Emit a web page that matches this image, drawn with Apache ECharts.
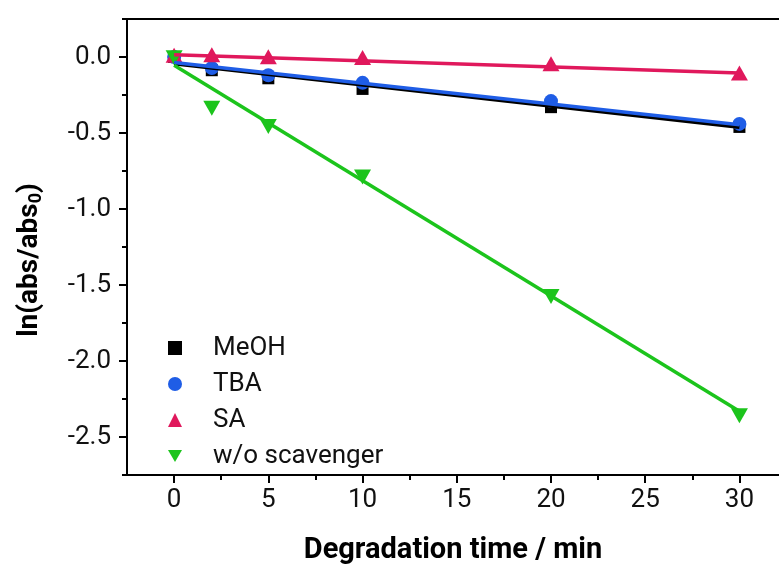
<!doctype html>
<html>
<head>
  <meta charset="utf-8">
  <script src="https://cdn.jsdelivr.net/npm/echarts@6/dist/echarts.min.js"></script>
  <style>
    html, body { margin: 0; padding: 0; background: #fff; }
    #chart { width: 779px; height: 570px; }
  </style>
</head>
<body>
  <div id="chart"></div>
  <script>
    // sampling times (min)
    var times = [0, 2, 5, 10, 20, 30];
    // ln(abs/abs0)
    var meoh = [0, -0.087, -0.14, -0.21, -0.33, -0.46];
    var tba = [0, -0.072, -0.12, -0.17, -0.29, -0.44];
    var sa = [0.012, 0.014, 0.002, -0.003, -0.044, -0.105];
    var woScav = [-0.005, -0.337, -0.457, -0.79, -1.576, -2.36];
    // linear fits (end points)
    var fitX = [0, 30];
    var meohFit = [-0.045, -0.462];
    var tbaFit = [-0.036, -0.446];
    var saFit = [0.015, -0.105];
    var woFit = [-0.055, -2.33];
    // axis ticks
    var xMajor = [0, 5, 10, 15, 20, 25, 30];
    var xMinor = [2.5, 7.5, 12.5, 17.5, 22.5, 27.5];
    var yMajor = [0, -0.5, -1, -1.5, -2, -2.5];
    var yMinor = [0.25, -0.25, -0.75, -1.25, -1.75, -2.25, -2.75];

    var names = ['MeOH', 'TBA', 'SA', 'w/o scavenger'];
    var colors = ['#000000', '#1f5de6', '#e0185c', '#1cc41c'];
    var symbols = ['rect', 'circle', 'triangle', 'path://M0,0 L10,0 L5,8.7 Z'];
    var sizes = [12, 14, [17, 15], [17, 15]];
    var values = [meoh, tba, sa, woScav];
    var fits = [meohFit, tbaFit, saFit, woFit];

    function pairs(xs, ys) {
      var out = [];
      for (var i = 0; i < xs.length; i++) out.push([xs[i], ys[i]]);
      return out;
    }

    var font = 'Roboto';
    var series = [];
    for (var i = 0; i < names.length; i++) {
      series.push({
        name: names[i],
        type: 'scatter',
        symbol: symbols[i],
        symbolSize: sizes[i],
        itemStyle: { color: colors[i], opacity: 1 },
        data: pairs(times, values[i]),
        z: 2
      });
    }
    for (var j = 0; j < names.length; j++) {
      series.push({
        type: 'line',
        showSymbol: false,
        symbol: 'none',
        lineStyle: { color: colors[j], width: 3.5 },
        data: pairs(fitX, fits[j]),
        z: 3,
        silent: true
      });
    }

    var baseX = { type: 'value', min: -2.5, max: 32.1, gridIndex: 0, splitLine: { show: false } };
    var baseY = { type: 'value', min: -2.75, max: 0.25, gridIndex: 0, splitLine: { show: false } };
    var axisLine = { show: true, onZero: false, lineStyle: { color: '#000', width: 2 } };
    var noLine = { show: false, onZero: false };

    var chart = echarts.init(document.getElementById('chart'));
    chart.setOption({
      animation: false,
      backgroundColor: '#fff',
      textStyle: { fontFamily: font },
      grid: { left: 127, right: 0, top: 19, bottom: 91 },
      legend: {
        data: names.map(function (n, k) { return { name: n, icon: symbols[k] }; }),
        orient: 'vertical',
        left: 163,
        top: 330,
        itemWidth: 14,
        itemHeight: 14,
        itemGap: 10,
        textStyle: { fontFamily: font, fontSize: 26, lineHeight: 24, color: '#111', padding: [0, 0, 0, 26] }
      },
      xAxis: [
        Object.assign({}, baseX, {
          position: 'bottom',
          name: 'Degradation time / min',
          nameLocation: 'middle',
          nameGap: 61,
          nameTextStyle: { fontFamily: font, fontSize: 29, fontWeight: 'bold', color: '#000' },
          axisLine: axisLine,
          axisTick: { show: true, inside: false, length: 8, customValues: xMajor, lineStyle: { color: '#000', width: 2 } },
          axisLabel: { customValues: xMajor, margin: 12, fontFamily: font, fontSize: 26, color: '#111' }
        }),
        Object.assign({}, baseX, {
          position: 'bottom',
          axisLine: noLine,
          axisTick: { show: true, inside: false, length: 5, customValues: xMinor, lineStyle: { color: '#000', width: 2 } },
          axisLabel: { show: false }
        }),
        Object.assign({}, baseX, {
          position: 'top',
          axisLine: axisLine,
          axisTick: { show: false },
          axisLabel: { show: false }
        })
      ],
      yAxis: [
        Object.assign({}, baseY, {
          position: 'left',
          name: '{a|ln(abs/abs}{b|0}{a|)}',
          nameLocation: 'middle',
          nameRotate: 90,
          nameGap: 82,
          nameTextStyle: {
            padding: [0, 26, 0, 0],
            rich: {
              a: { fontFamily: font, fontSize: 28, fontWeight: 'bold', color: '#000' },
              b: { fontFamily: font, fontSize: 18, fontWeight: 'bold', color: '#000', padding: [12, 0, 0, 0] }
            }
          },
          axisLine: axisLine,
          axisTick: { show: true, inside: false, length: 8, customValues: yMajor, lineStyle: { color: '#000', width: 2 } },
          axisLabel: {
            customValues: yMajor, margin: 16, fontFamily: font, fontSize: 26, color: '#111',
            formatter: function (v) { return v.toFixed(1); }
          }
        }),
        Object.assign({}, baseY, {
          position: 'left',
          axisLine: noLine,
          axisTick: { show: true, inside: false, length: 5, customValues: yMinor, lineStyle: { color: '#000', width: 2 } },
          axisLabel: { show: false }
        })
      ],
      series: series
    });
  </script>
</body>
</html>
